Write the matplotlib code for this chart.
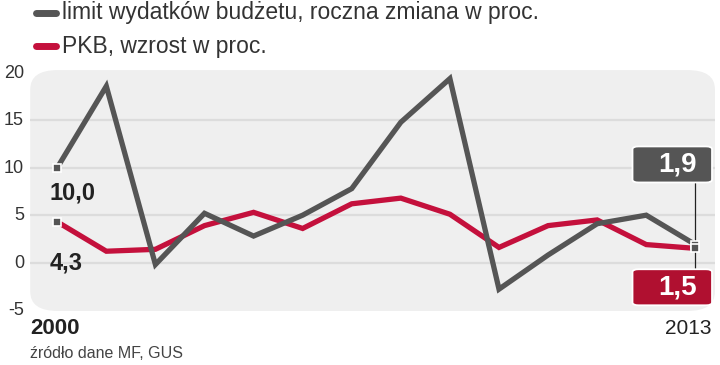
import numpy as np
import matplotlib.pyplot as plt
from matplotlib.patches import FancyBboxPatch

years = list(range(2000, 2014))
limit_wyd = [10.0, 18.6, -0.2, 5.2, 2.8, 5.0, 7.8, 14.8, 19.4, -2.8, 0.8, 4.1, 5.0, 1.9]
pkb = [4.3, 1.2, 1.4, 3.9, 5.3, 3.6, 6.2, 6.8, 5.1, 1.6, 3.9, 4.5, 1.9, 1.5]
yticks = [-5, 0, 5, 10, 15, 20]

GRAY = '#555555'
RED = '#c4103c'
RED_BOX = '#b01030'

plt.rcParams['font.family'] = ['Liberation Sans', 'DejaVu Sans']

fig = plt.figure(figsize=(7.2, 3.65), dpi=100)
ax = fig.add_axes([0.042, 0.148, 0.951, 0.66])
ax.set_xlim(1999.45, 2013.4)
ax.set_ylim(-5.1, 20.3)
ax.axis('off')

# background panel
bg = FancyBboxPatch((0, 0), 1, 1, boxstyle='round,pad=0,rounding_size=0.04',
                    transform=ax.transAxes, facecolor='#efefef', edgecolor='none',
                    zorder=0, mutation_aspect=2.0)
ax.add_patch(bg)
for v in [0, 5, 10, 15]:
    ax.axhline(v, color='#dcdcdc', lw=1.6, zorder=1)

ax.plot(years, limit_wyd, color=GRAY, lw=3.8, zorder=3, solid_joinstyle='miter')
ax.plot(years, pkb, color=RED, lw=3.8, zorder=2, solid_joinstyle='miter')

# end point markers
for x, y in [(years[0], limit_wyd[0]), (years[0], pkb[0]),
             (years[-1], limit_wyd[-1]), (years[-1], pkb[-1])]:
    ax.plot(x, y, marker='s', ms=6, mfc=GRAY, mec='white', mew=1.2, zorder=5)

fmt = lambda v: f'{v:.1f}'.replace('.', ',')
ax.text(years[0] - 0.16, 7.3, fmt(limit_wyd[0]), fontsize=17, fontweight='bold',
        color='#222222', ha='left', va='center', zorder=6)
ax.text(years[0] - 0.16, 0.0, fmt(pkb[0]), fontsize=17, fontweight='bold',
        color='#222222', ha='left', va='center', zorder=6)

# boxes at 2013
bx = years[-1] - 0.47
bw, bh = 1.62, 3.8
ax.plot([years[-1], years[-1]], [-0.6, 8.4], color='#222222', lw=0.9, zorder=4)
for cy, col, val in [(10.35, GRAY, limit_wyd[-1]), (-2.6, RED_BOX, pkb[-1])]:
    box = FancyBboxPatch((bx - bw / 2, cy - bh / 2), bw, bh,
                         boxstyle='round,pad=0,rounding_size=0.12', mutation_aspect=2.5,
                         facecolor=col, edgecolor='white', lw=1.3, zorder=7)
    ax.add_patch(box)
    ax.text(bx + 0.1, cy, fmt(val), fontsize=20, fontweight='bold', color='white',
            ha='center', va='center', zorder=8)

# y tick labels
for v in yticks:
    fig.text(24 / 720, 1 - (263 - v * 9.49) / 365, str(v), fontsize=13,
             color='#333333', ha='right', va='center')

fig.text(55 / 720, 1 - 328 / 365, '2000', fontsize=16, fontweight='bold', color='#222222',
         ha='center', va='center')
fig.text(688 / 720, 1 - 328 / 365, '2013', fontsize=15, color='#222222',
         ha='center', va='center')
fig.text(30 / 720, 1 - 354 / 365, 'źródło dane MF, GUS', fontsize=11.5,
         color='#444444', ha='left', va='center')

# legend
fig.add_artist(plt.Line2D([36 / 720, 56 / 720], [1 - 13 / 365] * 2, color=GRAY, lw=5,
                          solid_capstyle='round'))
fig.add_artist(plt.Line2D([36 / 720, 56 / 720], [1 - 46 / 365] * 2, color=RED, lw=5,
                          solid_capstyle='round'))
fig.text(62 / 720, 1 - 13 / 365, 'limit wydatków budżetu, roczna zmiana w proc.',
         fontsize=16.5, color='#333333', ha='left', va='center')
fig.text(62 / 720, 1 - 46 / 365, 'PKB, wzrost w proc.',
         fontsize=16.5, color='#333333', ha='left', va='center')

fig.savefig('out.png', dpi=100)
